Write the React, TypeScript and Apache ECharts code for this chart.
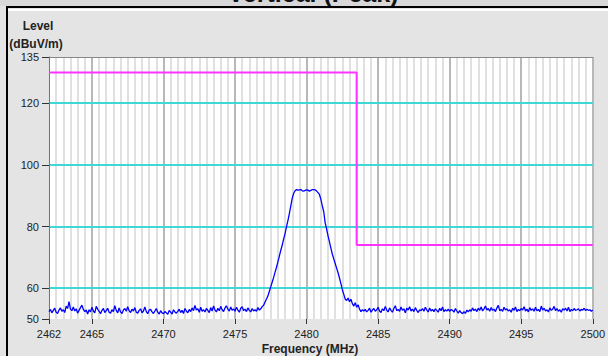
import React, { useEffect, useRef } from "react";
import * as echarts from "echarts";

const freqStart = 2462;
const freqStep = 0.1;

const noiseLeft = [
  52.4, 53.1, 52.0, 52.8, 53.5, 52.2, 51.8, 52.9, 53.6, 52.5,
  53.0, 52.1, 54.2, 53.4, 55.6, 53.2, 52.7, 53.9, 52.6, 53.3,
  51.9, 52.8, 53.7, 54.5, 53.1, 52.4, 52.9, 51.6, 53.0, 52.3,
  53.8, 52.6, 52.0, 54.1, 53.2, 52.5, 51.7, 52.8, 53.4, 52.1,
  52.7, 53.5, 52.2, 51.9, 53.0, 52.4, 54.3, 52.8, 52.0, 53.6,
  52.3, 51.8, 52.9, 53.4, 52.5, 54.0, 52.7, 52.1, 53.2, 52.6,
  53.7, 52.2, 51.9, 52.8, 53.3, 52.0, 52.6, 53.9, 52.4, 51.7,
  52.9, 53.1, 52.3, 51.8, 52.6, 53.4, 52.2, 51.6, 52.7, 52.0,
  51.7, 52.4, 52.0, 51.5, 52.8, 52.2, 51.6, 53.0, 52.3, 51.9,
  52.5, 53.2, 52.1, 52.8, 51.8, 53.4, 52.6, 52.0, 53.1, 52.4,
  53.6, 52.7, 54.4, 52.9, 53.3, 52.2, 53.8, 52.5, 53.0, 52.3,
  53.4, 52.8, 52.1, 53.7, 52.6, 54.2, 52.9, 52.3, 53.5, 52.7,
  54.1, 53.0, 52.4, 53.6, 54.3, 53.2, 52.6, 53.9, 52.8, 53.3,
  52.5, 53.8, 52.9, 52.2, 53.5, 54.0, 52.7, 53.2, 52.4, 53.6,
  52.8, 52.3, 53.4, 52.6, 53.0, 52.5, 53.7, 52.9, 53.3, 54.0,
];

const signal = [
  54.5, 55.5, 56.5, 57.5, 59.0, 60.5, 62.0, 63.5, 65.2, 66.8,
  68.6, 70.5, 72.3, 74.0, 76.0, 77.8, 80.0, 82.0, 84.3, 86.8,
  89.2, 90.8, 91.6, 92.0, 91.8, 91.9, 92.0, 91.6, 91.5, 91.7,
  91.9, 91.8, 91.5, 91.7, 92.0, 92.0, 91.9, 91.5, 91.0, 90.4,
  88.8, 86.7, 84.8, 81.2, 79.2, 77.0, 75.0, 73.0, 71.0, 69.5,
  68.0, 66.5, 65.0, 63.3, 61.5, 59.5, 58.0, 56.5, 56.0, 56.8,
];

const shoulder = [55.6, 56.4, 55.0, 54.2, 55.3, 53.8, 54.6];

const noiseRight = [
  53.2, 52.4, 53.0,
  52.6, 53.1, 52.3, 52.8, 53.5, 52.2, 52.9, 53.4, 52.5, 53.0,
  53.8, 52.6, 52.1, 53.3, 52.7, 54.1, 52.9, 52.3, 53.6, 52.8,
  52.2, 53.4, 54.3, 52.7, 53.1, 52.5, 53.9, 52.8, 53.3, 52.0,
  53.5, 52.9, 54.0, 52.6, 53.2, 52.4, 53.7, 52.8, 52.1, 53.0,
  52.7, 53.4, 52.5, 53.8, 52.9, 52.3, 53.6, 52.6, 53.1, 52.4,
  53.3, 52.8, 52.2, 53.5, 52.7, 53.9, 52.4, 53.0, 52.6, 53.2,
  52.5, 53.1, 52.8, 52.2, 53.4, 52.6, 51.9, 52.7, 52.1, 51.7,
  52.4, 51.8, 52.9, 52.3, 53.0, 52.5, 53.6, 52.7, 53.2, 52.4,
  53.5, 52.8, 53.9, 52.6, 53.3, 54.2, 52.9, 53.4, 52.5, 53.7,
  52.8, 53.2, 52.4, 53.6, 54.4, 52.7, 53.1, 52.5, 53.8, 52.9,
  53.3, 52.6, 53.0, 52.2, 53.5, 52.8, 53.9, 52.4, 53.1, 52.7,
  53.4, 52.9, 54.0, 52.6, 53.2, 52.3, 53.7, 52.8, 53.3, 52.5,
  53.8, 52.7, 53.1, 52.4, 54.2, 52.9, 53.5, 52.6, 53.0, 52.3,
  53.6, 52.8, 53.2, 54.1, 52.7, 53.4, 52.5, 53.0, 52.2, 53.3,
  52.9, 53.5, 52.6, 53.8, 52.4, 53.1, 52.7, 53.4, 52.8, 53.0,
  53.3, 52.6, 53.1, 52.9, 53.5, 52.7, 53.2, 52.8, 53.0, 52.5,
  52.9,
];

const limitFreqs = [2462, 2483.5, 2483.5, 2500];
const limitLevels = [130, 130, 74, 74];

const xTickLabels = [2462, 2465, 2470, 2475, 2480, 2485, 2490, 2495, 2500];
const yTickLabels = [50, 60, 80, 100, 120, 135];

const titleText = "Vertical (Peak)";
const yTitle1 = "Level";
const yTitle2 = "(dBuV/m)";
const xTitle = "Frequency (MHz)";

const FONT = "'Liberation Sans', Arial, sans-serif";

export default function App() {
  const ref = useRef<HTMLDivElement>(null);
  useEffect(() => {
    if (!ref.current) return;
    const chart = echarts.init(ref.current, undefined, { renderer: "svg" });
    const levels = [...noiseLeft, ...signal, ...shoulder, ...noiseRight];
    const trace = levels.map((v, i) => [
      Math.round((freqStart + i * freqStep) * 10) / 10,
      v,
    ]);
    const limit = limitFreqs.map((f, i) => [f, limitLevels[i]]);

    const minorColors: string[] = [];
    for (let i = 0; i < 10; i++) minorColors.push(i === 6 ? "#b8b8b8" : "#e0e0e0");
    const cyanColors: string[] = [];
    for (let i = 0; i < 10; i++)
      cyanColors.push(i % 2 === 1 && i < 9 ? "#3fd8d8" : "rgba(0,0,0,0)");

    chart.setOption({
      animation: false,
      backgroundColor: "#e4e4e4",
      grid: {
        show: true,
        backgroundColor: "#ffffff",
        borderWidth: 0,
        left: 49,
        right: 13,
        top: 57,
        bottom: 37,
      },
      xAxis: [
        {
          type: "value",
          min: 2462,
          max: 2500,
          position: "bottom",
          axisLine: { show: false },
          axisTick: {
            show: true,
            customValues: xTickLabels,
            length: 5,
            lineStyle: { color: "#333", width: 1 },
          },
          axisLabel: {
            customValues: xTickLabels,
            margin: 9,
            fontSize: 11,
            color: "#222",
            fontFamily: FONT,
            formatter: (v: number) => String(v),
          },
          splitLine: { show: false },
        },
        {
          type: "value",
          min: 2462,
          max: 2500,
          interval: 0.5,
          position: "top",
          z: 0,
          axisLine: { show: true, lineStyle: { color: "#888", width: 1 } },
          axisTick: { show: false },
          axisLabel: { show: false },
          splitLine: {
            show: true,
            lineStyle: { color: minorColors, width: 2, type: "solid" },
          },
        },
      ],
      yAxis: [
        {
          type: "value",
          min: 50,
          max: 135,
          position: "left",
          z: 1,
          axisLine: { show: true, lineStyle: { color: "#777", width: 1 } },
          axisTick: {
            show: true,
            customValues: yTickLabels,
            length: 7,
            lineStyle: { color: "#333", width: 1 },
          },
          axisLabel: {
            customValues: yTickLabels,
            margin: 10,
            fontSize: 11,
            color: "#222",
            fontFamily: FONT,
            formatter: (v: number) => String(v),
          },
          splitLine: { show: false },
        },
        {
          type: "value",
          min: 50,
          max: 135,
          interval: 10,
          position: "right",
          z: 1,
          axisLine: { show: false },
          axisTick: { show: false },
          axisLabel: { show: false },
          splitLine: {
            show: true,
            lineStyle: { color: cyanColors, width: 2, type: "solid" },
          },
        },
      ],
      series: [
        {
          type: "line",
          xAxisIndex: 0,
          yAxisIndex: 0,
          data: trace,
          showSymbol: false,
          symbol: "none",
          lineStyle: { color: "#0000ff", width: 1.3 },
          z: 3,
        },
        {
          type: "line",
          xAxisIndex: 0,
          yAxisIndex: 0,
          data: limit,
          showSymbol: false,
          symbol: "none",
          lineStyle: { color: "#ff33ff", width: 2 },
          z: 4,
        },
      ],
      graphic: [
        { type: "rect", shape: { x: 0, y: 0, width: 608, height: 6 }, style: { fill: "#d8d8d8" }, z: 10 },
        {
          type: "text",
          x: 313,
          y: 5,
          z: 11,
          style: {
            text: titleText,
            fontSize: 25,
            fontWeight: "bold",
            fontFamily: FONT,
            fill: "#111",
            textAlign: "center",
            textVerticalAlign: "bottom",
          },
        },
        { type: "rect", shape: { x: 0, y: 6, width: 608, height: 3 }, style: { fill: "#e4e4e4" }, z: 12 },
        { type: "rect", shape: { x: 6, y: 6, width: 602, height: 2 }, style: { fill: "#000" }, z: 13 },
        { type: "rect", shape: { x: 8, y: 9, width: 600, height: 2 }, style: { fill: "#ffffff" }, z: 13 },
        { type: "rect", shape: { x: 6, y: 6, width: 2, height: 350 }, style: { fill: "#000" }, z: 13 },
        {
          type: "text",
          x: 38,
          y: 26,
          z: 11,
          style: {
            text: yTitle1,
            fontSize: 12,
            fontWeight: "bold",
            fontFamily: FONT,
            fill: "#222",
            textAlign: "center",
            textVerticalAlign: "middle",
          },
        },
        {
          type: "text",
          x: 36,
          y: 44,
          z: 11,
          style: {
            text: yTitle2,
            fontSize: 12,
            fontWeight: "bold",
            fontFamily: FONT,
            fill: "#222",
            textAlign: "center",
            textVerticalAlign: "middle",
          },
        },
        {
          type: "text",
          x: 310,
          y: 349,
          z: 11,
          style: {
            text: xTitle,
            fontSize: 12,
            fontWeight: "bold",
            fontFamily: FONT,
            fill: "#222",
            textAlign: "center",
            textVerticalAlign: "middle",
          },
        },
      ],
    });
    return () => chart.dispose();
  }, []);
  return (
    <div
      ref={ref}
      style={{ position: "absolute", left: 0, top: 0, width: 608, height: 356 }}
    />
  );
}
